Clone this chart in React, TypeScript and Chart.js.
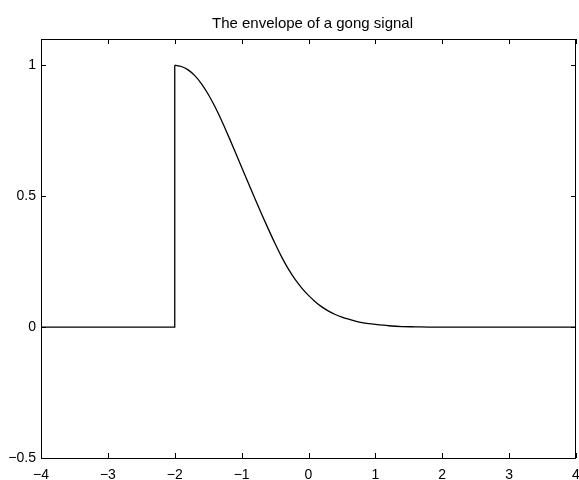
import React, { useEffect, useRef } from "react";
import { Chart, registerables } from "chart.js";

Chart.register(...registerables);

const TITLE = "The envelope of a gong signal";
const X_TICKS = [-4, -3, -2, -1, 0, 1, 2, 3, 4];
const Y_TICKS = [-0.5, 0, 0.5, 1];

// flat part and the jump at t = -2
const preX = [-4, -2, -2];
const preY = [0, 0, 1];

// decaying envelope
const envX = [
  -2.0, -1.9, -1.8, -1.7, -1.6, -1.5, -1.4, -1.3, -1.2, -1.1, -1.0, -0.9, -0.8, -0.7,
  -0.6, -0.5, -0.4, -0.3, -0.2, -0.1, 0.0, 0.1, 0.2, 0.3, 0.4, 0.5, 0.6, 0.7, 0.8,
  0.9, 1.0, 1.2, 1.4, 1.6, 1.8, 2.0, 2.5, 3.0, 3.5, 4.0,
];
const envY = [
  1.0, 0.995, 0.982, 0.96, 0.929, 0.889, 0.842, 0.789, 0.731, 0.671, 0.61, 0.55, 0.49, 0.431,
  0.374, 0.319, 0.267, 0.221, 0.182, 0.149, 0.121, 0.097, 0.077, 0.061, 0.048, 0.038, 0.03, 0.023, 0.017,
  0.013, 0.01, 0.005, 0.002, 0.001, 0.0, 0.0, 0.0, 0.0, 0.0, 0.0,
];

const FONT = "'Liberation Sans', Arial, Helvetica, sans-serif";

function fmt(v: number): string {
  const s = String(Math.round(v * 10) / 10);
  return s.replace("-", "\u2212");
}

const frame = {
  id: "frame",
  afterDraw(chart: any) {
    const { ctx, chartArea } = chart;
    const { left, right, top, bottom } = chartArea;
    const xs = chart.scales.x;
    const ys = chart.scales.y;
    ctx.save();
    ctx.strokeStyle = "#000";
    ctx.lineWidth = 1;
    ctx.strokeRect(left + 0.5, top + 0.5, right - left - 1, bottom - top);
    const tl = 5;
    ctx.beginPath();
    for (const v of X_TICKS) {
      const px = Math.round(xs.getPixelForValue(v)) + 0.5;
      ctx.moveTo(px, bottom);
      ctx.lineTo(px, bottom - tl);
      ctx.moveTo(px, top);
      ctx.lineTo(px, top + tl);
    }
    for (const v of Y_TICKS) {
      const py = Math.round(ys.getPixelForValue(v)) + 0.5;
      ctx.moveTo(left, py);
      ctx.lineTo(left + tl, py);
      ctx.moveTo(right, py);
      ctx.lineTo(right - tl, py);
    }
    ctx.stroke();
    ctx.fillStyle = "#000";
    ctx.font = `15px ${FONT}`;
    ctx.textAlign = "center";
    ctx.textBaseline = "alphabetic";
    ctx.fillText(TITLE, (left + right) / 2 + 4, 28);
    ctx.restore();
  },
};

export default function App() {
  const ref = useRef<HTMLCanvasElement | null>(null);

  useEffect(() => {
    if (!ref.current) return;
    const chart = new Chart(ref.current, {
      type: "scatter",
      data: {
        datasets: [
          {
            data: preX.map((x, i) => ({ x, y: preY[i] })),
            showLine: true,
            borderColor: "#000",
            borderWidth: 1.3,
            pointRadius: 0,
            tension: 0,
          },
          {
            data: envX.map((x, i) => ({ x, y: envY[i] })),
            showLine: true,
            borderColor: "#000",
            borderWidth: 1.3,
            pointRadius: 0,
            cubicInterpolationMode: "monotone",
          },
        ],
      },
      options: {
        responsive: false,
        animation: false,
        layout: { padding: { top: 39, right: 3, left: 0, bottom: 0 } },
        plugins: {
          legend: { display: false },
          title: { display: false },
          tooltip: { enabled: false },
        },
        scales: {
          x: {
            type: "linear",
            min: -4,
            max: 4,
            afterBuildTicks: (s: any) => {
              s.ticks = X_TICKS.map((v) => ({ value: v }));
            },
            afterFit: (s: any) => {
              s.height = 22;
              s.paddingLeft = 0;
              s.paddingRight = 0;
            },
            grid: { display: false, drawTicks: false },
            border: { display: false },
            ticks: {
              color: "#000",
              padding: 9,
              maxRotation: 0,
              autoSkip: false,
              font: { family: FONT, size: 14 },
              callback: (v: any) => fmt(Number(v)),
            },
          },
          y: {
            type: "linear",
            min: -0.5,
            max: 1.1,
            afterBuildTicks: (s: any) => {
              s.ticks = Y_TICKS.map((v) => ({ value: v }));
            },
            afterFit: (s: any) => {
              s.width = 41;
              s.paddingTop = 0;
              s.paddingBottom = 0;
            },
            grid: { display: false, drawTicks: false },
            border: { display: false },
            ticks: {
              color: "#000",
              padding: 5,
              autoSkip: false,
              font: { family: FONT, size: 14 },
              callback: (v: any) => fmt(Number(v)),
            },
          },
        },
      },
      plugins: [frame],
    });
    return () => chart.destroy();
  }, []);

  return (
    <div style={{ position: "absolute", left: 0, top: 0, width: 579, height: 480, background: "#fff" }}>
      <canvas ref={ref} width={579} height={480} style={{ display: "block", width: 579, height: 480 }} />
    </div>
  );
}
